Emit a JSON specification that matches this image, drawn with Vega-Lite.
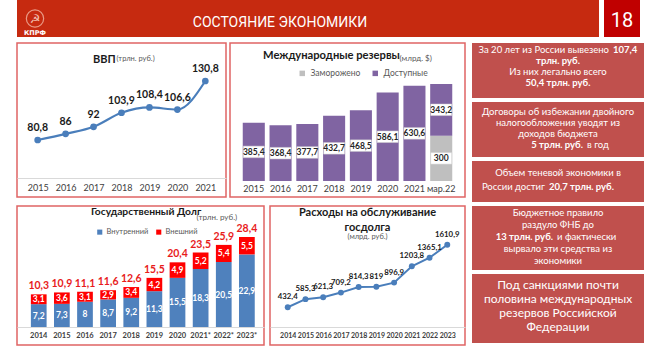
{
  "$schema": "https://vega.github.io/schema/vega-lite/v6.json",
  "padding": {"left": 16, "top": 0, "right": 0, "bottom": 0},
  "background": "white",
  "spacing": 5,
  "resolve": {"scale": {"color": "independent"}, "legend": {"color": "independent"}},
  "config": {
    "locale": {"number": {"decimal": ",", "thousands": "\u00a0", "grouping": [3], "currency": ["", ""]}},
    "font": "Lato, Open Sans, sans-serif",
    "view": {"stroke": null},
    "axis": {"grid": false, "labelFont": "Lato, Open Sans, sans-serif", "titleFont": "Lato, Open Sans, sans-serif"},
    "legend": {"labelFont": "Lato, Open Sans, sans-serif"},
    "title": {"font": "Lato, Open Sans, sans-serif", "subtitleFont": "Lato, Open Sans, sans-serif", "frame": "group"}
  },
  "datasets": {
    "gdp": [
      {"year": "2015", "v": 80.8}, {"year": "2016", "v": 86}, {"year": "2017", "v": 92},
      {"year": "2018", "v": 103.9}, {"year": "2019", "v": 108.4}, {"year": "2020", "v": 106.6},
      {"year": "2021", "v": 130.8}
    ],
    "res": [
      {"cat": "2015", "type": "Доступные", "value": 385.4},
      {"cat": "2016", "type": "Доступные", "value": 368.4},
      {"cat": "2017", "type": "Доступные", "value": 377.7},
      {"cat": "2018", "type": "Доступные", "value": 432.7},
      {"cat": "2019", "type": "Доступные", "value": 468.5},
      {"cat": "2020", "type": "Доступные", "value": 586.1},
      {"cat": "2021", "type": "Доступные", "value": 630.6},
      {"cat": "мар.22", "type": "Заморожено", "value": 300},
      {"cat": "мар.22", "type": "Доступные", "value": 343.2}
    ],
    "debt": [
      {"year": "2014", "kind": "Внутренний", "value": 7.2}, {"year": "2014", "kind": "Внешний", "value": 3.1},
      {"year": "2015", "kind": "Внутренний", "value": 7.3}, {"year": "2015", "kind": "Внешний", "value": 3.6},
      {"year": "2016", "kind": "Внутренний", "value": 8}, {"year": "2016", "kind": "Внешний", "value": 3.1},
      {"year": "2017", "kind": "Внутренний", "value": 8.7}, {"year": "2017", "kind": "Внешний", "value": 2.9},
      {"year": "2018", "kind": "Внутренний", "value": 9.2}, {"year": "2018", "kind": "Внешний", "value": 3.4},
      {"year": "2019", "kind": "Внутренний", "value": 11.3}, {"year": "2019", "kind": "Внешний", "value": 4.2},
      {"year": "2020", "kind": "Внутренний", "value": 15.5}, {"year": "2020", "kind": "Внешний", "value": 4.9},
      {"year": "2021*", "kind": "Внутренний", "value": 18.3}, {"year": "2021*", "kind": "Внешний", "value": 5.2},
      {"year": "2022*", "kind": "Внутренний", "value": 20.5}, {"year": "2022*", "kind": "Внешний", "value": 5.4},
      {"year": "2023*", "kind": "Внутренний", "value": 22.9}, {"year": "2023*", "kind": "Внешний", "value": 5.5}
    ],
    "exp": [
      {"year": "2014", "v": 432.4}, {"year": "2015", "v": 585.3}, {"year": "2016", "v": 621.3},
      {"year": "2017", "v": 709.2}, {"year": "2018", "v": 814.3}, {"year": "2019", "v": 819},
      {"year": "2020", "v": 896.9}, {"year": "2021", "v": 1203.8}, {"year": "2022", "v": 1365.1},
      {"year": "2023", "v": 1610.9}
    ]
  },
  "vconcat": [
    {
      "hconcat": [
        {
          "hconcat": [
            {
              "width": 36, "height": 37,
              "view": {"fill": "#c62a10", "stroke": null},
              "data": {"values": [{"a": "☭", "c": "КПРФ"}]},
              "layer": [
                {"mark": {"type": "point", "shape": "circle", "size": 300, "filled": false, "stroke": "#e99a86", "strokeWidth": 1.2, "opacity": 1}, "encoding": {}},
                {"mark": {"type": "text", "font": "DejaVu Sans", "fontSize": 12, "color": "#f2c2b4"}, "encoding": {"text": {"field": "a"}}},
                {"mark": {"type": "text", "font": "DejaVu Sans", "fontWeight": "bold", "fontSize": 6.5, "color": "white", "dy": 14.5}, "encoding": {"text": {"field": "c"}}}
              ]
            },
            {
              "width": 546, "height": 37,
              "view": {"fill": "#c62a10", "stroke": null},
              "data": {"values": [{"t": "СОСТОЯНИЕ ЭКОНОМИКИ"}]},
              "mark": {"type": "text", "font": "Roboto", "fontSize": 14, "color": "white", "dx": -46, "dy": 4},
              "encoding": {"text": {"field": "t"}}
            }
          ],
          "spacing": 0
        },
        {
          "width": 36, "height": 37,
          "view": {"fill": "#c00000", "stroke": null},
          "data": {"values": [{"t": "18"}]},
          "mark": {"type": "text", "font": "Roboto", "fontSize": 20, "color": "white", "dy": 2},
          "encoding": {"text": {"field": "t"}}
        }
      ],
      "spacing": 5
    },
    {
      "hconcat": [
        {
          "vconcat": [
            {
              "hconcat": [
                {
                  "width": 209, "height": 154,
                  "view": {"fill": "white", "stroke": "#e06464", "strokeWidth": 1.5},
                  "title": {"text": "ВВП", "anchor": "start", "dx": 76, "offset": -22,
                    "fontSize": 11, "fontWeight": "bold", "color": "#1a1a1a"},
                  "data": {"name": "gdp"},
                  "encoding": {
                    "x": {"field": "year", "type": "ordinal", "sort": null, "scale": {"type": "point", "padding": 0.74},
                      "axis": {"title": null, "offset": -19, "domainColor": "#d9d9d9", "ticks": false, "labelPadding": 5, "labelFontSize": 9, "labelColor": "#404040", "labelAngle": 0}},
                    "y": {"field": "v", "type": "quantitative", "scale": {"domain": [32.5, 163], "nice": false, "zero": false},
                      "axis": {"orient": "left", "domain": false, "ticks": false, "labels": false, "grid": false, "title": "(трлн. руб.)", "titleAngle": 0, "titleAlign": "left", "titleBaseline": "alphabetic", "titleX": 99, "titleY": 17.5, "titleFontSize": 7.5, "titleFontWeight": "normal", "titleColor": "#595959", "titlePadding": 0}}
                  },
                  "layer": [
                    {"mark": {"type": "line", "interpolate": "monotone", "color": "#4a7ebb", "strokeWidth": 2.2, "point": {"filled": true, "size": 45, "color": "#4a7ebb"}}},
                    {"mark": {"type": "text", "dy": -12, "fontWeight": "bold", "fontSize": 10.5, "color": "#1a1a1a"}, "encoding": {"text": {"field": "v", "type": "quantitative", "format": ".1~f"}}}
                  ]
                },
                {
                  "width": 235, "height": 154,
                  "view": {"fill": "white", "stroke": "#e06464", "strokeWidth": 1.5},
                  "title": {"text": "Международные резервы", "anchor": "start", "dx": 33, "offset": -18,
                    "fontSize": 11.2, "fontWeight": "bold", "color": "#1a1a1a"},
                  "data": {"name": "res"},
                  "transform": [{"stack": "value", "groupby": ["cat"], "sort": [{"field": "type", "order": "descending"}], "as": ["v0", "v1"]}],
                  "encoding": {
                    "x": {"field": "cat", "type": "ordinal", "sort": null, "scale": {"paddingInner": 0.176, "paddingOuter": 0.476},
                      "axis": {"title": null, "offset": -16, "domain": false, "ticks": false, "labelPadding": 3, "labelFontSize": 9, "labelColor": "#404040", "labelAngle": 0}}
                  },
                  "layer": [
                    {"mark": {"type": "bar"},
                      "encoding": {
                        "y": {"field": "v1", "type": "quantitative", "scale": {"domain": [-106, 914], "nice": false, "zero": false},
                          "axis": {"orient": "left", "domain": false, "ticks": false, "labels": false, "grid": false, "title": "(млрд. $)", "titleAngle": 0, "titleAlign": "left", "titleBaseline": "alphabetic", "titleX": 169, "titleY": 17, "titleFontSize": 8, "titleFontWeight": "normal", "titleColor": "#595959", "titlePadding": 0}},
                        "y2": {"field": "v0"},
                        "color": {"field": "type", "type": "nominal", "scale": {"domain": ["Заморожено", "Доступные"], "range": ["#bfbfbf", "#8064a2"]},
                          "legend": {"orient": "none", "legendX": 68, "legendY": 26, "direction": "horizontal", "title": null, "symbolType": "square", "symbolSize": 30, "symbolStrokeWidth": 0, "labelFontSize": 8.5, "labelColor": "#595959", "columnPadding": 10}}
                      }},
                    {"transform": [{"fold": ["v0", "v1"], "as": ["k", "pos"]}],
                      "mark": {"type": "point", "shape": "M-1,-0.55H1V0.55H-1Z", "size": 441, "filled": true, "color": "white", "opacity": 1, "stroke": "#d0d0d0", "strokeWidth": 0.5},
                      "encoding": {"y": {"aggregate": "mean", "field": "pos", "type": "quantitative",
                          "axis": {"orient": "left", "domain": false, "ticks": false, "labels": false, "grid": false, "title": "(млрд. $)", "titleAngle": 0, "titleAlign": "left", "titleBaseline": "alphabetic", "titleX": 169, "titleY": 17, "titleFontSize": 8, "titleFontWeight": "normal", "titleColor": "#595959", "titlePadding": 0}},
                        "detail": {"field": "type"}}},
                    {"transform": [{"fold": ["v0", "v1"], "as": ["k", "pos"]}],
                      "mark": {"type": "text", "fontWeight": "bold", "fontSize": 8.5, "color": "#262626"},
                      "encoding": {"y": {"aggregate": "mean", "field": "pos", "type": "quantitative",
                          "axis": {"orient": "left", "domain": false, "ticks": false, "labels": false, "grid": false, "title": "(млрд. $)", "titleAngle": 0, "titleAlign": "left", "titleBaseline": "alphabetic", "titleX": 169, "titleY": 17, "titleFontSize": 8, "titleFontWeight": "normal", "titleColor": "#595959", "titlePadding": 0}},
                        "detail": {"field": "type"}, "text": {"field": "value", "type": "quantitative", "format": ".1~f"}}}
                  ]
                }
              ],
              "spacing": 2,
              "resolve": {"scale": {"color": "independent"}, "legend": {"color": "independent"}}
            },
            {
              "hconcat": [
                {
                  "width": 247, "height": 139,
                  "view": {"fill": "white", "stroke": "#e06464", "strokeWidth": 1.5},
                  "title": {"text": "Государственный Долг", "anchor": "start", "dx": 74, "offset": -11,
                    "fontSize": 10.3, "fontWeight": "bold", "color": "#1a1a1a"},
                  "data": {"name": "debt"},
                  "transform": [{"stack": "value", "groupby": ["year"], "sort": [{"field": "kind", "order": "descending"}], "as": ["v0", "v1"]}],
                  "encoding": {
                    "x": {"field": "year", "type": "ordinal", "sort": null, "scale": {"paddingInner": 0.32, "paddingOuter": 0.5, "align": 0.6},
                      "axis": {"title": null, "offset": -18, "domainColor": "#d9d9d9", "ticks": false, "labelPadding": 4, "labelFontSize": 7.5, "labelFontWeight": "bold", "labelColor": "#404040", "labelAngle": 0}}
                  },
                  "layer": [
                    {"mark": {"type": "bar"},
                      "encoding": {
                        "y": {"field": "v1", "type": "quantitative", "scale": {"domain": [-5.68, 38.17], "nice": false, "zero": false},
                          "axis": {"orient": "left", "domain": false, "ticks": false, "labels": false, "grid": false, "title": "(трлн. руб.)", "titleAngle": 0, "titleAlign": "left", "titleBaseline": "alphabetic", "titleX": 179, "titleY": 13.5, "titleFontSize": 8, "titleFontWeight": "normal", "titleColor": "#595959", "titlePadding": 0}},
                        "y2": {"field": "v0"},
                        "color": {"field": "kind", "type": "nominal", "scale": {"domain": ["Внутренний", "Внешний"], "range": ["#4f81bd", "#ff0000"]},
                          "legend": {"orient": "none", "legendX": 79, "legendY": 22, "direction": "horizontal", "title": null, "symbolType": "square", "symbolSize": 26, "symbolStrokeWidth": 0, "labelFontSize": 7.5, "labelColor": "#595959", "columnPadding": 6, "labelOffset": 3}}
                      }},
                    {"transform": [{"fold": ["v0", "v1"], "as": ["k", "pos"]}],
                      "mark": {"type": "text", "fontWeight": "bold", "fontSize": 8.5, "color": "white"},
                      "encoding": {"y": {"aggregate": "mean", "field": "pos", "type": "quantitative",
                          "axis": {"orient": "left", "domain": false, "ticks": false, "labels": false, "grid": false, "title": "(трлн. руб.)", "titleAngle": 0, "titleAlign": "left", "titleBaseline": "alphabetic", "titleX": 179, "titleY": 13.5, "titleFontSize": 8, "titleFontWeight": "normal", "titleColor": "#595959", "titlePadding": 0}},
                        "detail": {"field": "kind"}, "text": {"field": "value", "type": "quantitative", "format": ".1~f"}}},
                    {"mark": {"type": "text", "fontWeight": "bold", "fontSize": 10.5, "color": "#e81c1c", "dy": -8},
                      "encoding": {"y": {"aggregate": "sum", "field": "value", "type": "quantitative",
                          "axis": {"orient": "left", "domain": false, "ticks": false, "labels": false, "grid": false, "title": "(трлн. руб.)", "titleAngle": 0, "titleAlign": "left", "titleBaseline": "alphabetic", "titleX": 179, "titleY": 13.5, "titleFontSize": 8, "titleFontWeight": "normal", "titleColor": "#595959", "titlePadding": 0}},
                        "text": {"aggregate": "sum", "field": "value", "type": "quantitative", "format": ".1~f"}}}
                  ]
                },
                {
                  "width": 195, "height": 139,
                  "view": {"fill": "white", "stroke": "#e06464", "strokeWidth": 1.5},
                  "title": {"text": ["Расходы на обслуживание", "госдолга"], "subtitle": "(млрд. руб.)", "anchor": "middle", "offset": -34, "lineHeight": 15,
                    "fontSize": 11, "fontWeight": "bold", "color": "#1a1a1a", "subtitleFontSize": 7.5, "subtitleColor": "#595959", "subtitlePadding": 0},
                  "data": {"name": "exp"},
                  "encoding": {
                    "x": {"field": "year", "type": "ordinal", "sort": null, "scale": {"type": "point", "padding": 1.04},
                      "axis": {"title": null, "offset": -18, "domainColor": "#d9d9d9", "ticks": false, "labelPadding": 4, "labelFontSize": 7, "labelFontWeight": "bold", "labelColor": "#404040", "labelAngle": 0}},
                    "y": {"field": "v", "type": "quantitative", "scale": {"domain": [-278, 2340], "nice": false, "zero": false}, "axis": null}
                  },
                  "layer": [
                    {"mark": {"type": "line", "color": "#4a7ebb", "strokeWidth": 2, "point": {"filled": true, "size": 35, "color": "#4a7ebb"}}},
                    {"mark": {"type": "text", "dy": -10, "fontWeight": "bold", "fontSize": 7.8, "color": "#1a1a1a"}, "encoding": {"text": {"field": "v", "type": "quantitative", "format": ".1~f"}}}
                  ]
                }
              ],
              "spacing": 4,
              "resolve": {"scale": {"color": "independent"}, "legend": {"color": "independent"}}
            }
          ],
          "spacing": 7,
          "resolve": {"scale": {"color": "independent"}, "legend": {"color": "independent"}}
        },
        {
          "vconcat": [
            {
              "width": 172, "height": 55,
              "view": {"fill": "#c0504d", "stroke": null},
              "data": {"values": [
                {"line": 1, "pos": "L", "w": "n", "t": "За 20 лет из России вывезено"},
                {"line": 1, "pos": "R", "w": "b", "t": "107,4"},
                {"line": 2, "pos": "C", "w": "b", "t": "трлн. руб."},
                {"line": 3, "pos": "C", "w": "n", "t": "Из них легально всего"},
                {"line": 4, "pos": "C", "w": "b", "t": "50,4 трлн. руб."}
              ]},
              "encoding": {"y": {"field": "line", "type": "ordinal", "scale": {"type": "point", "padding": 1.1, "align": 0.34}, "axis": null}, "text": {"field": "t"}},
              "layer": [
                {"transform": [{"filter": "datum.pos == 'C' && datum.w == 'n'"}], "mark": {"type": "text", "color": "white", "fontSize": 9.5}},
                {"transform": [{"filter": "datum.pos == 'C' && datum.w == 'b'"}], "mark": {"type": "text", "color": "white", "fontSize": 9.5, "fontWeight": "bold"}},
                {"transform": [{"filter": "datum.pos == 'L'"}], "mark": {"type": "text", "color": "white", "fontSize": 9.5, "align": "right", "dx": 51}},
                {"transform": [{"filter": "datum.pos == 'R'"}], "mark": {"type": "text", "color": "white", "fontSize": 9.5, "fontWeight": "bold", "align": "left", "dx": 55}}
              ]
            },
            {
              "width": 172, "height": 55,
              "view": {"fill": "#c0504d", "stroke": null},
              "data": {"values": [
                {"line": 1, "pos": "C", "w": "n", "t": "Договоры об избежании двойного"},
                {"line": 2, "pos": "C", "w": "n", "t": "налогообложения уводят из"},
                {"line": 3, "pos": "C", "w": "n", "t": "доходов бюджета"},
                {"line": 4, "pos": "L", "w": "b", "t": "5 трлн. руб."},
                {"line": 4, "pos": "R", "w": "n", "t": "в год"}
              ]},
              "encoding": {"y": {"field": "line", "type": "ordinal", "scale": {"type": "point", "padding": 1.1, "align": 0.46}, "axis": null}, "text": {"field": "t"}},
              "layer": [
                {"transform": [{"filter": "datum.pos == 'C'"}], "mark": {"type": "text", "color": "white", "fontSize": 9.5}},
                {"transform": [{"filter": "datum.pos == 'L'"}], "mark": {"type": "text", "color": "white", "fontSize": 9.5, "fontWeight": "bold", "align": "right", "dx": 25}},
                {"transform": [{"filter": "datum.pos == 'R'"}], "mark": {"type": "text", "color": "white", "fontSize": 9.5, "align": "left", "dx": 29}}
              ]
            },
            {
              "width": 172, "height": 41,
              "view": {"fill": "#c0504d", "stroke": null},
              "data": {"values": [
                {"line": 1, "pos": "C", "w": "n", "t": "Объем теневой экономики в"},
                {"line": 2, "pos": "L", "w": "n", "t": "России достиг"},
                {"line": 2, "pos": "R", "w": "b", "t": "20,7 трлн. руб."}
              ]},
              "encoding": {"y": {"field": "line", "type": "ordinal", "scale": {"type": "point", "padding": 1.42, "align": 0.44}, "axis": null}, "text": {"field": "t"}},
              "layer": [
                {"transform": [{"filter": "datum.pos == 'C'"}], "mark": {"type": "text", "color": "white", "fontSize": 9.5}},
                {"transform": [{"filter": "datum.pos == 'L'"}], "mark": {"type": "text", "color": "white", "fontSize": 9.5, "align": "right", "dx": -13}},
                {"transform": [{"filter": "datum.pos == 'R'"}], "mark": {"type": "text", "color": "white", "fontSize": 9.5, "fontWeight": "bold", "align": "left", "dx": -9}}
              ]
            },
            {
              "width": 172, "height": 64,
              "view": {"fill": "#c0504d", "stroke": null},
              "data": {"values": [
                {"line": 1, "pos": "C", "w": "n", "t": "Бюджетное правило"},
                {"line": 2, "pos": "C", "w": "n", "t": "раздуло ФНБ до"},
                {"line": 3, "pos": "L", "w": "b", "t": "13 трлн. руб."},
                {"line": 3, "pos": "R", "w": "n", "t": "и фактически"},
                {"line": 4, "pos": "C", "w": "n", "t": "вырвало эти средства из"},
                {"line": 5, "pos": "C", "w": "n", "t": "экономики"}
              ]},
              "encoding": {"y": {"field": "line", "type": "ordinal", "scale": {"type": "point", "padding": 0.65, "align": 0.43}, "axis": null}, "text": {"field": "t"}},
              "layer": [
                {"transform": [{"filter": "datum.pos == 'C'"}], "mark": {"type": "text", "color": "white", "fontSize": 9.5}},
                {"transform": [{"filter": "datum.pos == 'L'"}], "mark": {"type": "text", "color": "white", "fontSize": 9.5, "fontWeight": "bold", "align": "right", "dx": -5}},
                {"transform": [{"filter": "datum.pos == 'R'"}], "mark": {"type": "text", "color": "white", "fontSize": 9.5, "align": "left", "dx": -1}}
              ]
            },
            {
              "width": 172, "height": 69,
              "view": {"fill": "#c0504d", "stroke": null},
              "data": {"values": [
                {"line": 1, "t": "Под санкциями почти"},
                {"line": 2, "t": "половина международных"},
                {"line": 3, "t": "резервов Российской"},
                {"line": 4, "t": "Федерации"}
              ]},
              "mark": {"type": "text", "color": "white", "fontSize": 12},
              "encoding": {"y": {"field": "line", "type": "ordinal", "scale": {"type": "point", "padding": 1.375, "align": 0.415}, "axis": null}, "text": {"field": "t"}}
            }
          ],
          "spacing": 4
        }
      ],
      "spacing": 6,
      "resolve": {"scale": {"color": "independent"}, "legend": {"color": "independent"}}
    }
  ]
}
